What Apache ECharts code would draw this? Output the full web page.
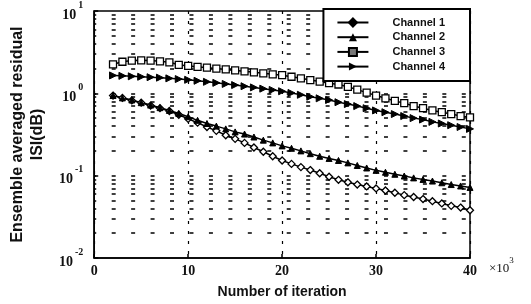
<!DOCTYPE html>
<html>
<head>
<meta charset="utf-8">
<script src="https://cdn.jsdelivr.net/npm/echarts@6/dist/echarts.min.js"></script>
<style>html,body{margin:0;padding:0;background:#fff}#c{width:531px;height:304px}</style>
</head>
<body>
<div id="c"></div>
<script>
const iterations = [2,3,4,5,6,7,8,9,10,11,12,13,14,15,16,17,18,19,20,21,22,23,24,25,26,27,28,29,30,31,32,33,34,35,36,37,38,39,40];
const channel1 = [0.94,0.88,0.82,0.77,0.71,0.66,0.61,0.55,0.49,0.44,0.39,0.35,0.31,0.28,0.25,0.22,0.195,0.172,0.153,0.139,0.127,0.117,0.107,0.097,0.089,0.083,0.078,0.074,0.070,0.066,0.062,0.058,0.055,0.052,0.049,0.046,0.043,0.041,0.038];
const channel2 = [0.94,0.88,0.83,0.77,0.72,0.67,0.62,0.57,0.52,0.47,0.43,0.40,0.37,0.34,0.32,0.295,0.27,0.25,0.23,0.215,0.200,0.185,0.172,0.162,0.153,0.143,0.133,0.124,0.116,0.110,0.104,0.099,0.094,0.090,0.086,0.082,0.078,0.075,0.072];
const channel3 = [2.25,2.42,2.50,2.52,2.50,2.45,2.38,2.22,2.15,2.10,2.05,2.00,1.95,1.90,1.85,1.80,1.75,1.70,1.66,1.59,1.52,1.45,1.39,1.33,1.28,1.20,1.11,1.02,0.94,0.87,0.81,0.76,0.70,0.66,0.62,0.59,0.56,0.53,0.51];
const channel4 = [1.65,1.63,1.61,1.59,1.57,1.55,1.52,1.49,1.46,1.42,1.38,1.34,1.30,1.26,1.22,1.18,1.14,1.10,1.06,1.01,0.96,0.91,0.87,0.83,0.78,0.74,0.70,0.66,0.62,0.59,0.56,0.53,0.50,0.48,0.45,0.43,0.41,0.39,0.37];
const seriesNames = ['Channel 1','Channel 2','Channel 3','Channel 4'];
const xTicks = [0,10,20,30,40];
const yTickValues = [0.01,0.1,1,10];
const yTickExps = ['-2','-1','0','1'];
const yGridValues = [0.02,0.03,0.04,0.05,0.06,0.07,0.08,0.09,0.1,0.2,0.3,0.4,0.5,0.6,0.7,0.8,0.9,1,2,3,4,5,6,7,8,9];

function pairs(arr){ return iterations.map((x,i)=>[x,arr[i]]); }

const chart = echarts.init(document.getElementById('c'), null, {renderer:'canvas'});
const sans = 'Liberation Sans';
const serif = 'Liberation Serif';
const baseLine = {color:'#000', width:1.5};
const option = {
  animation:false,
  backgroundColor:'#fff',
  grid:{left:81,right:61,top:9,bottom:46,show:true,borderColor:'#000',borderWidth:1.5,backgroundColor:'transparent'},
  legend:{
    orient:'vertical', right:61, top:9, z:20,
    padding:[8,25,9,13],
    itemWidth:31, itemHeight:10, itemGap:3.7,
    backgroundColor:'#fff', borderColor:'#000', borderWidth:2,
    textStyle:{fontFamily:sans,fontSize:11,fontWeight:'bold',color:'#111',padding:[0,0,0,19],lineHeight:10},
    data:[
      {name:seriesNames[0],itemStyle:{color:'#000',borderColor:'#000'}},
      {name:seriesNames[1]},
      {name:seriesNames[2],itemStyle:{color:'#777',borderColor:'#000'}},
      {name:seriesNames[3]}
    ]
  },
  xAxis:{
    type:'value', min:xTicks[0], max:xTicks[xTicks.length-1], interval:10,
    name:'Number of iteration', nameLocation:'middle', nameGap:27,
    nameTextStyle:{fontFamily:sans,fontSize:14,fontWeight:'bold',color:'#111'},
    axisLine:{lineStyle:{color:'#000',width:1.5}},
    axisTick:{inside:true,length:4,lineStyle:{color:'#000',width:1.5}},
    axisLabel:{fontFamily:serif,fontSize:14,fontWeight:'bold',color:'#111',margin:6},
    splitLine:{show:true,lineStyle:{color:'#000',width:1.2,type:[3,7]}}
  },
  yAxis:{
    type:'log', logBase:10, min:0.01, max:10,
    name:'Ensemble averaged residual\nISI(dB)', nameLocation:'middle', nameGap:34,
    nameTextStyle:{fontFamily:sans,fontSize:16,fontWeight:'bold',color:'#111',lineHeight:20},
    axisLine:{show:true,lineStyle:{color:'#000',width:1.5}},
    axisTick:{inside:true,length:4,lineStyle:{color:'#000',width:1.5}},
    splitLine:{show:false},
    axisLabel:{
      margin:11, color:'#111',
      formatter:function(v){
        let i = yTickValues.findIndex(t=>Math.abs(t-v)/t<1e-6);
        if(i<0) return '';
        return '{b|10}{s|' + yTickExps[i] + '}';
      },
      rich:{
        b:{fontFamily:serif,fontSize:14,fontWeight:'bold',color:'#111',padding:[8,2,0,0]},
        s:{fontFamily:serif,fontSize:10,fontWeight:'bold',color:'#111',verticalAlign:'top'}
      }
    }
  },
  graphic:[{
    type:'text', left:489, top:256,
    style:{text:'{a|×10}{s|3}', rich:{
      a:{fontFamily:serif,fontSize:13,fill:'#111',padding:[6,0,0,0]},
      s:{fontFamily:serif,fontSize:9,fill:'#111',verticalAlign:'top'}
    }}
  }],
  series:[
    {name:seriesNames[0],type:'line',data:pairs(channel1),symbol:'diamond',symbolSize:7,
     lineStyle:baseLine,itemStyle:{color:'#fff',borderColor:'#000',borderWidth:1.3},z:3,
     markLine:{silent:true,symbol:['none','none'],label:{show:false},animation:false,z:1,
       lineStyle:{color:'#000',width:1.5,type:[4,15.45],dashOffset:2,opacity:1},
       emphasis:{disabled:true},
       data:yGridValues.map(v=>({yAxis:v}))}},
    {name:seriesNames[1],type:'line',data:pairs(channel2),symbol:'triangle',symbolSize:6,
     lineStyle:baseLine,itemStyle:{color:'#000',borderColor:'#000'},z:3},
    {name:seriesNames[2],type:'line',data:pairs(channel3),symbol:'rect',symbolSize:7,
     lineStyle:baseLine,itemStyle:{color:'#fff',borderColor:'#000',borderWidth:1.3},z:3},
    {name:seriesNames[3],type:'line',data:pairs(channel4),symbol:'triangle',symbolRotate:-90,symbolSize:7,
     lineStyle:baseLine,itemStyle:{color:'#000',borderColor:'#000'},z:3}
  ]
};
chart.setOption(option);
</script>
</body>
</html>
